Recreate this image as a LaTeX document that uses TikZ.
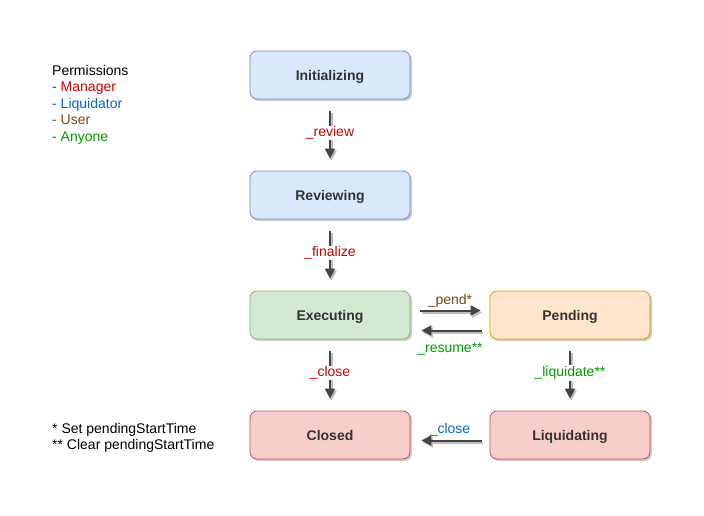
\documentclass[tikz,border=0pt]{standalone}
\usepackage{fontspec}
\setmainfont{Liberation Sans}
\usetikzlibrary{arrows.meta,shadows}

\definecolor{blueFill}{HTML}{DAE8FC}
\definecolor{blueLine}{HTML}{6C8EBF}
\definecolor{greenFill}{HTML}{D5E8D4}
\definecolor{greenLine}{HTML}{82B366}
\definecolor{orangeFill}{HTML}{FFE6CC}
\definecolor{orangeLine}{HTML}{D79B00}
\definecolor{redFill}{HTML}{F8CECC}
\definecolor{redLine}{HTML}{B85450}
\definecolor{arrowGray}{HTML}{444444}
\definecolor{permRed}{HTML}{CC0000}
\definecolor{permBlue}{HTML}{0066CC}
\definecolor{permBrown}{HTML}{7A4516}
\definecolor{permGreen}{HTML}{009900}

\begin{document}
\begin{tikzpicture}[x=1pt, y=-1pt,
    state/.style={draw, rectangle, line width=0.8pt, minimum width=160pt, minimum height=48pt,
        rounded corners=7pt, font=\fontsize{14}{16}\selectfont\bfseries, text=black!80,
        text height=10pt, text depth=0pt,
        drop shadow={shadow xshift=2pt, shadow yshift=-2pt, opacity=0.2, fill=black}},
    flow/.style={line width=2pt, draw=arrowGray, -{Triangle[width=10pt,length=10pt]},
        preaction={draw=black!25, line width=2pt, -{Triangle[width=10pt,length=10pt]},
            transform canvas={shift={(1.5pt,-2pt)}}}},
    lbl/.style={fill=white, inner sep=1pt, yshift=2pt, font=\fontsize{14}{16}\selectfont}]
    \useasboundingbox (0,0) rectangle (704,515);

    % Legend
    \node[anchor=north west, align=left, inner sep=0pt, font=\fontsize{14}{16.5}\selectfont] (legend) at (52,65)
        {Permissions\\ \textcolor{permRed}{- Manager}\\ \textcolor{permBlue}{- Liquidator}\\
         \textcolor{permBrown}{- User}\\ \textcolor{permGreen}{- Anyone}};

    % Notes
    \node[anchor=north west, align=left, inner sep=0pt, font=\fontsize{14}{16.5}\selectfont] (notes) at (52,423)
        {* Set pendingStartTime\\ ** Clear pendingStartTime};

    % States
    \node[state, fill=blueFill, draw=blueLine] (init) at (330,75) {Initializing};
    \node[state, fill=blueFill, draw=blueLine] (review) at (330,195) {Reviewing};
    \node[state, fill=greenFill, draw=greenLine] (exec) at (330,315) {Executing};
    \node[state, fill=orangeFill, draw=orangeLine] (pend) at (570,315) {Pending};
    \node[state, fill=redFill, draw=redLine] (closed) at (330,435) {Closed};
    \node[state, fill=redFill, draw=redLine] (liquid) at (570,435) {Liquidating};

    % Vertical transitions
    \draw[flow, shorten <=12pt, shorten >=12pt] (init) -- (review)
        node[lbl, midway, text=permRed] (lreview) {\_review};
    \draw[flow, shorten <=12pt, shorten >=12pt] (review) -- (exec)
        node[lbl, midway, text=permRed] (lfinal) {\_finalize};
    \draw[flow, shorten <=12pt, shorten >=12pt] (exec) -- (closed)
        node[lbl, midway, text=permRed] (lclose) {\_close};
    \draw[flow, shorten <=12pt, shorten >=12pt] (pend) -- (liquid)
        node[lbl, midway, text=permGreen] (lliq) {\_liquidate**};

    % Horizontal transitions
    \draw[flow, shorten <=10pt, shorten >=9pt] ([yshift=4.5pt]exec.east) -- ([yshift=4.5pt]pend.west)
        node[midway, above=1pt, inner sep=1pt, font=\fontsize{14}{16}\selectfont, text=permBrown] (lpend) {\_pend*};
    \draw[flow, shorten <=8pt, shorten >=11pt] ([yshift=-15.5pt]pend.west) -- ([yshift=-15.5pt]exec.east)
        node[midway, below=10pt, inner sep=1pt, font=\fontsize{14}{16}\selectfont, text=permGreen] (lresume) {\_resume**};
    \draw[flow, shorten <=8pt, shorten >=11pt] ([yshift=-5.5pt]liquid.west) -- ([yshift=-5.5pt]closed.east)
        node[midway, above=2pt, inner sep=1pt, font=\fontsize{14}{16}\selectfont, text=permBlue] (lclose2) {\_close};
\end{tikzpicture}
\end{document}
